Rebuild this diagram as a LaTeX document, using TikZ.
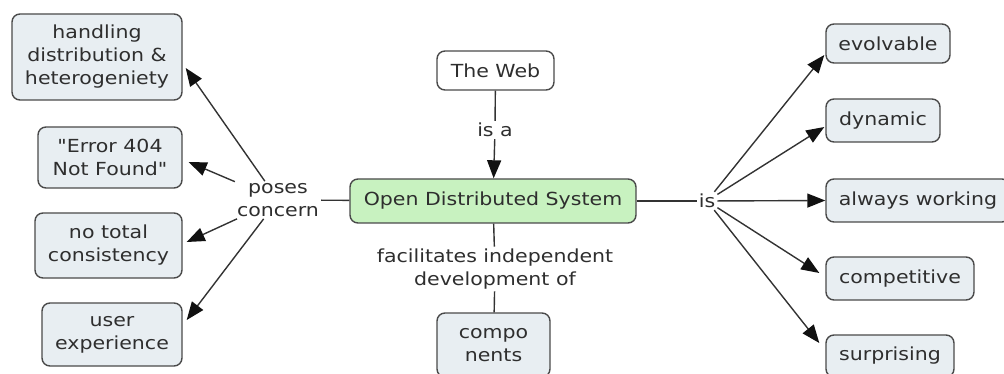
\documentclass[tikz,border=0pt]{standalone}
\usepackage{fontspec}
\setmainfont{DejaVu Sans}[FakeStretch=1.14, Ligatures=TeXOff]
\usetikzlibrary{arrows.meta,calc}
\definecolor{boxfill}{HTML}{E8EEF2}
\definecolor{boxdraw}{HTML}{4A4A4A}
\definecolor{greenfill}{HTML}{C8F2C0}
\definecolor{txt}{HTML}{2E2E2E}
\definecolor{linec}{HTML}{333333}
\definecolor{tipc}{HTML}{111111}
\tikzset{
  concept/.style={draw=boxdraw, fill=boxfill, line width=1.4pt, rounded corners=8pt, align=center, text=txt, inner sep=0pt},
  lbl/.style={align=center, text=txt, inner sep=2pt, fill=white},
  conn/.style={draw=linec, line width=1.4pt},
  arr/.style={conn, -{Triangle[length=18pt,width=14pt,color=tipc]}},
}
\begin{document}
\begin{tikzpicture}[x=1pt,y=-1pt,font=\fontsize{18}{23}\selectfont]
\useasboundingbox (0,0) rectangle (1004,374);
\clip (0,0) rectangle (1004,374);
% concepts
\node[concept, minimum width=170pt, minimum height=86pt] (handling) at (97,57) {handling\\distribution \&\\heterogeniety};
\node[concept, minimum width=144pt, minimum height=61pt] (error) at (110,157.5) {"Error 404\\Not Found"};
\node[concept, minimum width=147pt, minimum height=65pt] (consist) at (108.5,245.5) {no total\\consistency};
\node[concept, minimum width=140pt, minimum height=63pt] (user) at (112,334.5) {user\\experience};
\node[concept, fill=white, minimum width=117pt, minimum height=39pt] (web) at (495.5,70.5) {The Web};
\node[concept, fill=greenfill, minimum width=286pt, minimum height=44pt] (ods) at (493,201) {Open Distributed System};
\node[concept, minimum width=113pt, minimum height=64pt] (compo) at (493.5,345) {compo\\nents};
\node[concept, minimum width=124pt, minimum height=39pt] (evolv) at (888,43.5) {evolvable};
\node[concept, minimum width=114pt, minimum height=43pt] (dyn) at (883,120.5) {dynamic};
\node[concept, minimum width=184pt, minimum height=43pt] (always) at (918,200.5) {always working};
\node[concept, minimum width=148pt, minimum height=43pt] (compet) at (900,278.5) {competitive};
\node[concept, minimum width=128pt, minimum height=42pt] (surpr) at (890,356) {surprising};
% linking phrases
\node[lbl] (pc) at (278,200) {poses\\concern};
\node[lbl] (isa) at (495,130) {is a};
\node[lbl] (fac) at (495,269) {facilitates independent\\development of};
\node[lbl] (is) at (707,201) {is};
% connectors
\draw[conn] (ods) -- (pc);
\draw[arr] (pc) -- ($(handling.east)+(3,11)$);
\draw[arr] (pc) -- ($(error.east)+(6,4.5)$);
\draw[arr] (pc) -- ($(consist.east)+(4,-3.5)$);
\draw[arr] (pc) -- ($(user.east)+(4,-14.5)$);
\draw[conn] (web) -- (isa);
\draw[arr] (isa) -- (ods);
\draw[conn] (ods) -- (fac);
\draw[conn] (fac) -- (compo);
\draw[conn] (ods) -- (is);
\draw[arr] (is) -- ($(evolv.west)+(-1,11.5)$);
\draw[arr] (is) -- ($(dyn.west)+(-1,6.5)$);
\draw[arr] (is) -- (always.west);
\draw[arr] (is) -- ($(compet.west)+(-6,-5.5)$);
\draw[arr] (is) -- ($(surpr.west)+(-6,-13)$);
\end{tikzpicture}
\end{document}
